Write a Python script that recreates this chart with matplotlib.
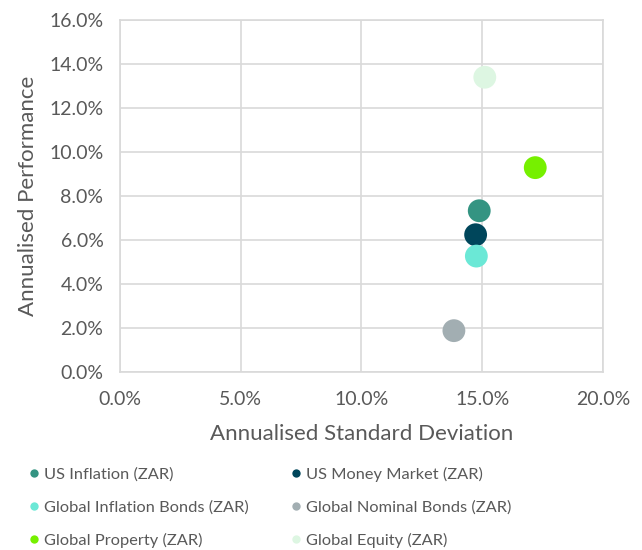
import matplotlib.pyplot as plt
from matplotlib.ticker import PercentFormatter
from matplotlib.lines import Line2D

plt.rcParams['font.family'] = ['Lato', 'DejaVu Sans']

# Annualised risk / return per asset class (percent)
assets = ['US Inflation (ZAR)', 'US Money Market (ZAR)', 'Global Inflation Bonds (ZAR)',
          'Global Nominal Bonds (ZAR)', 'Global Property (ZAR)', 'Global Equity (ZAR)']
std_dev = [14.88, 14.73, 14.76, 13.83, 17.20, 15.11]
performance = [7.33, 6.24, 5.27, 1.88, 9.29, 13.40]
colors = ['#349482', '#00465B', '#6BE8D6', '#A2AEB2', '#76F000', '#DDF6E2']

GREY = '#595959'
GRID = '#D9D9D9'

fig = plt.figure(figsize=(6.42, 5.5), dpi=100)
ax = fig.add_axes([0.187, 0.3236, 0.752, 0.64])

for name, x, y, c in zip(assets, std_dev, performance, colors):
    ax.scatter(x, y, s=270, color=c, edgecolors='none', zorder=3, label=name)

ax.set_xlim(0, 20)
ax.set_ylim(0, 16)
ax.set_xticks([0, 5, 10, 15, 20])
ax.set_yticks(range(0, 17, 2))
ax.xaxis.set_major_formatter(PercentFormatter(decimals=1))
ax.yaxis.set_major_formatter(PercentFormatter(decimals=1))
ax.grid(True, color=GRID, linewidth=1.2, zorder=0)
ax.set_axisbelow(True)
for sp in ax.spines.values():
    sp.set_color(GRID)
    sp.set_linewidth(1.2)
ax.tick_params(length=0, labelsize=14, colors=GREY)
ax.tick_params(axis='x', pad=14)
ax.tick_params(axis='y', pad=12)

ax.set_xlabel('Annualised Standard Deviation', fontsize=16, color=GREY, labelpad=11)
ax.set_ylabel('Annualised Performance', fontsize=16, color=GREY, labelpad=8)

# legend filled column-wise -> reorder so rows read as in the original
order = [0, 2, 4, 1, 3, 5]
handles = [Line2D([], [], marker='o', linestyle='none', markersize=6,
                  markerfacecolor=colors[i], markeredgecolor='none') for i in order]
labels = [assets[i] for i in order]
leg = fig.legend(handles, labels, ncol=2, loc='upper left', bbox_to_anchor=(0.035, 0.163),
                 frameon=False, fontsize=11.8, handlelength=0.6, handletextpad=0.3,
                 columnspacing=2.6, labelspacing=1.1, borderaxespad=0)
for t in leg.get_texts():
    t.set_color(GREY)

fig.savefig('out.png', dpi=100)
